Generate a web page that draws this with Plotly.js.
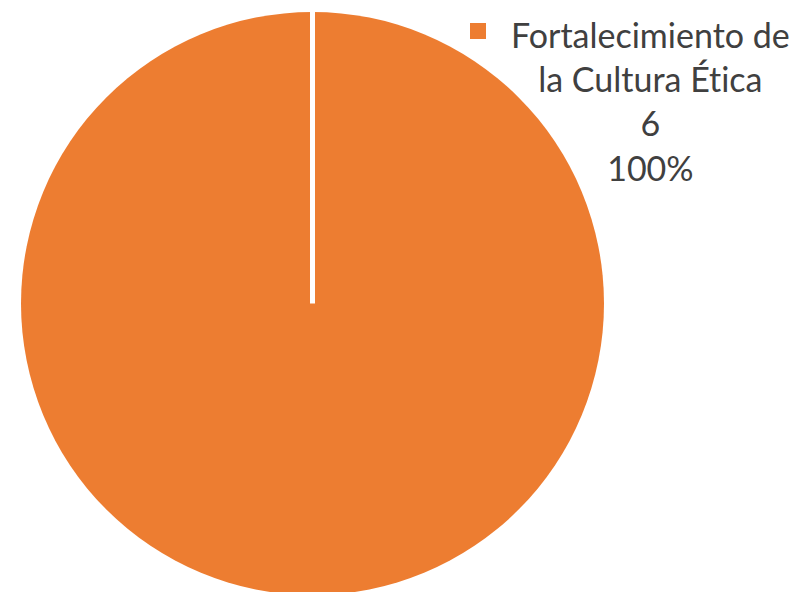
<!DOCTYPE html>
<html>
<head>
<meta charset="utf-8">
<script src="https://cdn.plot.ly/plotly-3.0.1.min.js"></script>
<style>
  html, body { margin: 0; padding: 0; overflow: hidden; background: #ffffff; }
  #chart { width: 800px; height: 610px; }
  #chart text { font-variant-ligatures: none; font-feature-settings: "liga" 0, "clig" 0; }
</style>
</head>
<body>
<div id="chart"></div>
<script>
const categories = ["Fortalecimiento de la Cultura Ética"];
const labelLines = ["Fortalecimiento de", "la Cultura Ética"];
const values = [6];
const colors = ["#ED7D31"];

const total = values.reduce((a, b) => a + b, 0);
const pct = Math.round(values[0] / total * 100) + "%";
const labelText = labelLines.concat([String(values[0]), pct]).join("<br>");

const W = 800, H = 610;
const margin = { l: 21, r: 0, t: 12, b: 15 };
const plotW = W - margin.l - margin.r;
const plotH = H - margin.t - margin.b;
const px = x => (x - margin.l) / plotW;
const py = y => (H - margin.b - y) / plotH;

const domainX = [0, plotH / plotW];

const trace = {
  type: "pie",
  labels: categories,
  values: values,
  marker: { colors: colors, line: { width: 0 } },
  textinfo: "none",
  hoverinfo: "label+value+percent",
  sort: false,
  direction: "clockwise",
  rotation: 0,
  domain: { x: domainX, y: [0, 1] },
  showlegend: false
};

const cx = (domainX[0] + domainX[1]) / 2;

const layout = {
  width: W,
  height: H,
  margin: margin,
  paper_bgcolor: "#ffffff",
  plot_bgcolor: "#ffffff",
  showlegend: false,
  font: { family: "Lato, 'Liberation Sans', sans-serif", color: "#404040" },
  shapes: [
    { type: "line", xref: "paper", yref: "paper", x0: cx, x1: cx, y0: 0.5, y1: 1.0,
      line: { color: "#ffffff", width: 5 }, layer: "above" },
    { type: "rect", xref: "paper", yref: "paper", x0: px(470), x1: px(486), y0: py(39), y1: py(23),
      fillcolor: colors[0], line: { width: 0 }, layer: "above" }
  ],
  annotations: [
    { xref: "paper", yref: "paper", x: px(650), y: py(12), xanchor: "center", yanchor: "top",
      text: labelText, showarrow: false, align: "center",
      font: { family: "Lato, 'Liberation Sans', sans-serif", size: 34, color: "#404040" } }
  ]
};

Plotly.newPlot("chart", [trace], layout, { displayModeBar: false, staticPlot: true });
</script>
</body>
</html>
